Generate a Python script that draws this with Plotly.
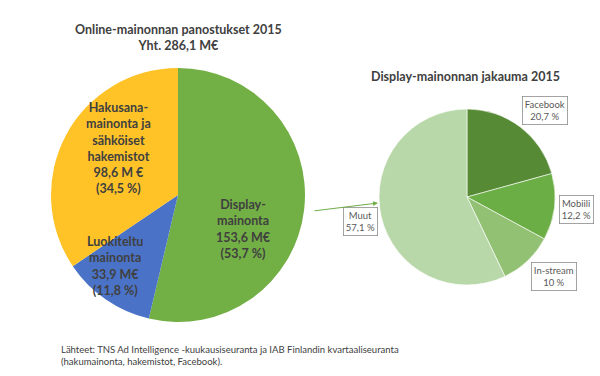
import plotly.graph_objects as go

# ---- data ----
main_categories = ["Display-mainonta", "Luokiteltu mainonta", "Hakusana-mainonta ja sähköiset hakemistot"]
main_values = [153.6, 33.9, 98.6]
main_label_text = [
    "Display-<br>mainonta<br>153,6 M€<br>(53,7 %)",
    "Luokiteltu<br>mainonta<br>33,9 M€<br>(11,8 %)",
    "Hakusana-<br>mainonta ja<br>sähköiset<br>hakemistot<br>98,6 M €<br>(34,5 %)",
]
display_categories = ["Facebook", "Mobiili", "In-stream", "Muut"]
display_values = [20.7, 12.2, 10.0, 57.1]
display_pct_text = ["20,7 %", "12,2 %", "10 %", "57,1 %"]

title_left = "Online-mainonnan panostukset 2015<br>Yht. 286,1 M€"
title_right = "Display-mainonnan jakauma 2015"
source_text = ("Lähteet: TNS Ad Intelligence -kuukausiseuranta ja IAB Finlandin kvartaaliseuranta<br>"
               "(hakumainonta, hakemistot, Facebook).")

# ---- styles ----
W, H = 600, 376
FONT = "Lato"
main_colors = ["#72AF45", "#4A73C8", "#FFC327"]
display_colors = ["#568A35", "#6CAE46", "#92C173", "#B9D8A9"]
main_label_pos = [(243, 229), (115, 266), (118, 148)]
display_box_pos = [(545, 110), (576, 209), (554, 276), (360, 221)]


def px(x):
    return x / W


def py(y):
    return 1 - y / H


fig = go.Figure()
fig.add_trace(go.Pie(
    labels=main_categories, values=main_values, sort=False, direction="clockwise",
    marker=dict(colors=main_colors, line=dict(width=0)), textinfo="none",
    hoverinfo="label+value", showlegend=False,
    domain=dict(x=[px(51), px(305)], y=[py(322), py(68)]),
))
fig.add_trace(go.Pie(
    labels=display_categories, values=display_values, sort=False, direction="clockwise",
    marker=dict(colors=display_colors, line=dict(width=0.6, color="white")), textinfo="none",
    hoverinfo="label+value", showlegend=False,
    domain=dict(x=[px(379), px(555)], y=[py(285), py(109)]),
))

annotations = []
annotations.append(dict(x=px(178), y=py(37), text="<b>" + title_left + "</b>", showarrow=False,
                        xanchor="center", yanchor="middle",
                        font=dict(family=FONT, size=12.5, color="#404040"),
                        xref="paper", yref="paper"))
annotations.append(dict(x=px(466), y=py(77), text="<b>" + title_right + "</b>", showarrow=False,
                        xanchor="center", yanchor="middle",
                        font=dict(family=FONT, size=12.5, color="#404040"),
                        xref="paper", yref="paper"))
for txt, (x, y) in zip(main_label_text, main_label_pos):
    annotations.append(dict(x=px(x), y=py(y), text="<b>" + txt + "</b>", showarrow=False,
                            xanchor="center", yanchor="middle",
                            font=dict(family=FONT, size=12.5, color="#404040"),
                            xref="paper", yref="paper"))
for cat, pct, (x, y) in zip(display_categories, display_pct_text, display_box_pos):
    annotations.append(dict(x=px(x), y=py(y), text=cat + "<br>" + pct, showarrow=False,
                            xanchor="center", yanchor="middle",
                            font=dict(family=FONT, size=9.5, color="#595959"),
                            bordercolor="#8C8C8C", borderwidth=0.8, borderpad=2,
                            bgcolor="white", xref="paper", yref="paper"))
annotations.append(dict(x=px(59), y=py(355), text=source_text, showarrow=False, xanchor="left",
                        yanchor="middle", align="left",
                        font=dict(family=FONT, size=9.5, color="#404040"),
                        xref="paper", yref="paper"))
# connector arrow from the display slice to the breakdown chart
annotations.append(dict(x=px(378), y=py(203), ax=-65, ay=8, xref="paper", yref="paper",
                        axref="pixel", ayref="pixel", text="", showarrow=True, arrowhead=2,
                        arrowsize=1, arrowwidth=1, arrowcolor="#70AD47"))

fig.update_layout(
    width=W, height=H, margin=dict(l=0, r=0, t=0, b=0),
    paper_bgcolor="white", plot_bgcolor="white",
    annotations=annotations, font=dict(family=FONT),
)
fig.write_html("out.html", config={"displayModeBar": False},
               post_script="document.body.style.margin='0';")
